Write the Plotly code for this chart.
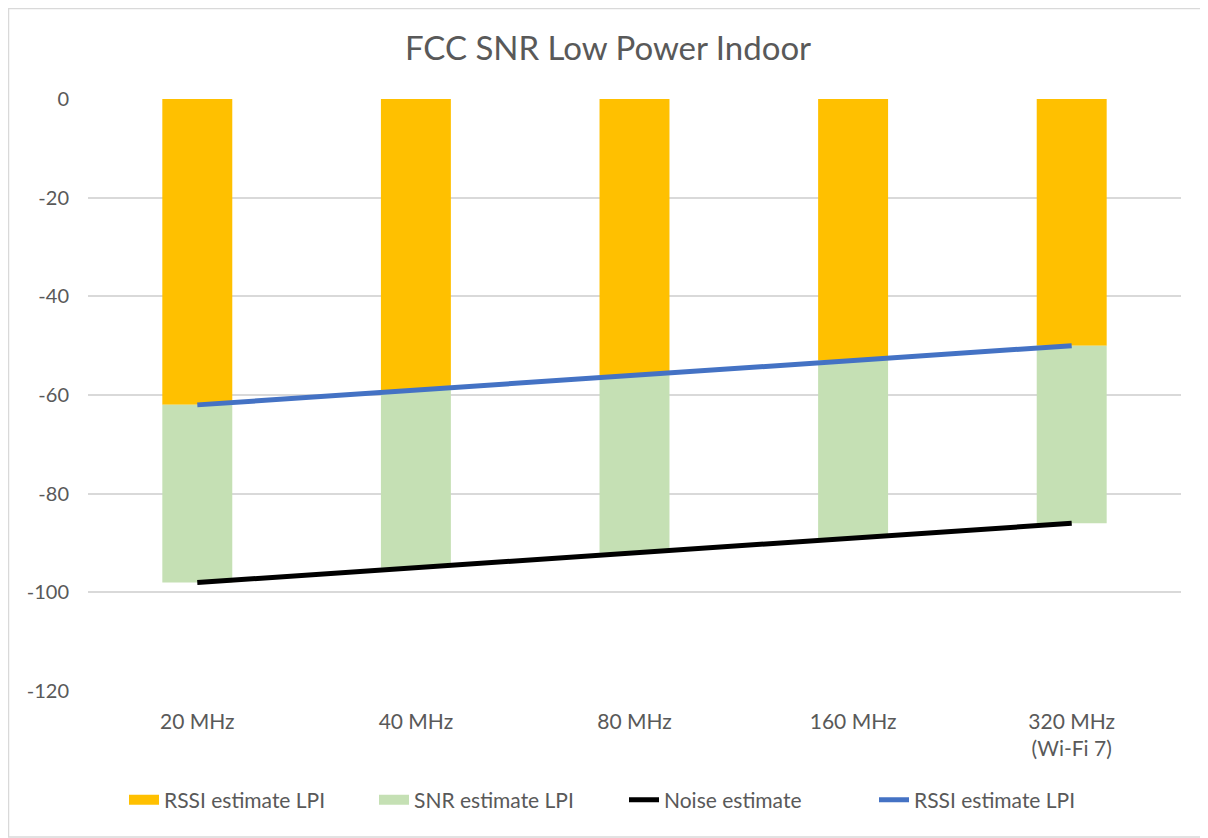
import plotly.graph_objects as go

categories = ["20 MHz", "40 MHz", "80 MHz", "160 MHz", "320 MHz<br>(Wi-Fi 7)"]
rssi_lpi = [-62, -59, -56, -53, -50]
snr_lpi = [-36, -36, -36, -36, -36]
noise_est = [-98, -95, -92, -89, -86]
y_ticks = [0, -20, -40, -60, -80, -100, -120]
y_tick_text = ["0", "-20", "-40", "-60", "-80", "-100", "-120"]

FONT = "Lato, sans-serif"
GRAY = "#595959"
ORANGE = "#FFC000"
GREEN = "#C5E0B4"
BLUE = "#4472C4"

fig = go.Figure()

# stacked bars (legend drawn by the proxies below)
fig.add_trace(go.Bar(
    x=categories, y=rssi_lpi, name="RSSI estimate LPI",
    marker=dict(color=ORANGE, line=dict(width=0)),
    width=0.32, hoverinfo="skip", showlegend=False
))
fig.add_trace(go.Bar(
    x=categories, y=snr_lpi, name="SNR estimate LPI",
    marker=dict(color=GREEN, line=dict(width=0)),
    width=0.32, hoverinfo="skip", showlegend=False
))

# legend proxies so the bar swatches come out as wide blocks
fig.add_trace(go.Scatter(x=[None], y=[None], mode="lines", name="RSSI estimate LPI",
                         line=dict(color=ORANGE, width=12)))
fig.add_trace(go.Scatter(x=[None], y=[None], mode="lines", name="SNR estimate LPI",
                         line=dict(color=GREEN, width=12)))

fig.add_trace(go.Scatter(
    x=categories, y=noise_est, mode="lines", name="Noise estimate",
    line=dict(color="black", width=5)
))
fig.add_trace(go.Scatter(
    x=categories, y=rssi_lpi, mode="lines", name="RSSI estimate LPI",
    line=dict(color=BLUE, width=5)
))

# page has an 8px body margin, so figure coords = reference coords - 8
W, H = 1200, 830
L, R, T, B = 80, 1173, 91, 683
pw, ph = R - L, B - T

def px(x):
    return (x - L) / pw

def py(y):
    return (B - y) / ph

fig.update_layout(
    width=W, height=H,
    barmode="relative",
    plot_bgcolor="white", paper_bgcolor="white",
    margin=dict(l=L, r=W - R, t=T, b=H - B),
    font=dict(family=FONT, color=GRAY, size=21),
    title=dict(text="FCC SNR Low Power Indoor", x=0.5, xanchor="center",
               y=1 - 40 / H, yanchor="middle",
               font=dict(size=33, color=GRAY, family=FONT)),
    xaxis=dict(showgrid=False, zeroline=False, showline=False, ticks="",
               tickfont=dict(size=21, color=GRAY), ticklabelstandoff=16),
    yaxis=dict(range=[-120, 0], tickvals=y_ticks, ticktext=y_tick_text,
               showgrid=True, gridcolor="#D9D9D9", gridwidth=1.5,
               zeroline=False, showline=False, ticks="", ticklabelstandoff=18,
               tickfont=dict(size=20, color=GRAY)),
    legend=dict(orientation="h", x=px(616), xanchor="center", y=py(792),
                yanchor="middle", font=dict(size=21, color=GRAY),
                traceorder="normal", entrywidth=205, entrywidthmode="pixels"),
    shapes=[dict(type="rect", xref="paper", yref="paper",
                 x0=px(0.5), x1=px(1197), y0=py(829), y1=py(0.5),
                 line=dict(color="#D9D9D9", width=1.5), layer="below")],
)

fig.write_html("out.html")
